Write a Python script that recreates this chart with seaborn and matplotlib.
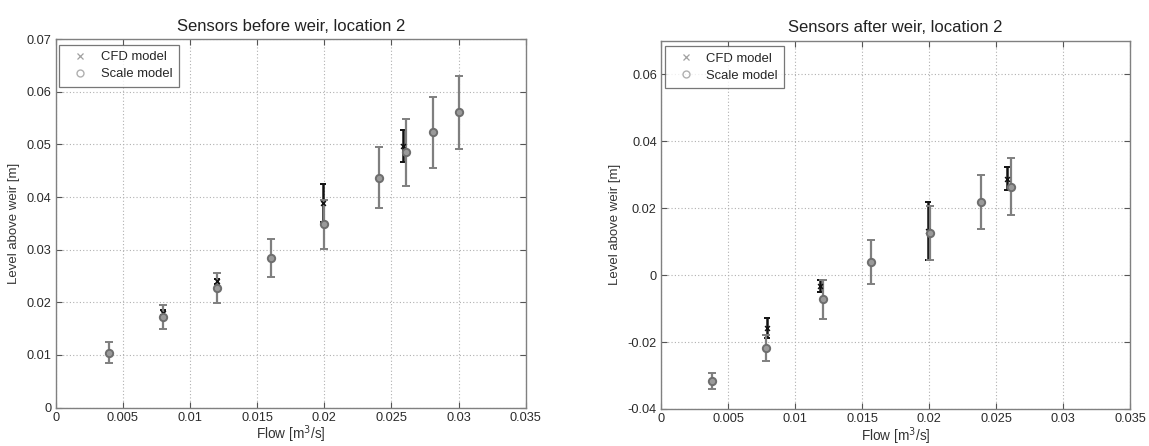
import matplotlib
matplotlib.use("Agg")
import matplotlib.pyplot as plt
from matplotlib.lines import Line2D
import seaborn as sns
import pandas as pd

# Sensors before weir, location 2
before_scale_flow = [0.0040, 0.0080, 0.0120, 0.0160, 0.0200, 0.0241, 0.0261, 0.0281, 0.0300]
before_scale_level = [0.0104, 0.0172, 0.0227, 0.0284, 0.0348, 0.0437, 0.0485, 0.0523, 0.0561]
before_scale_err = [0.0020, 0.0023, 0.0028, 0.0036, 0.0046, 0.0058, 0.0063, 0.0067, 0.0070]
before_cfd_flow = [0.0080, 0.0120, 0.0199, 0.0259]
before_cfd_level = [0.0180, 0.0240, 0.0388, 0.0497]
before_cfd_err = [0.0005, 0.0005, 0.0036, 0.0031]

# Sensors after weir, location 2
after_scale_flow = [0.0038, 0.0078, 0.0121, 0.0157, 0.0201, 0.0239, 0.0261]
after_scale_level = [-0.0316, -0.0218, -0.0073, 0.0039, 0.0125, 0.0219, 0.0264]
after_scale_err = [0.0024, 0.0038, 0.0058, 0.0066, 0.0080, 0.0081, 0.0086]
after_cfd_flow = [0.0079, 0.0119, 0.0199, 0.0258]
after_cfd_level = [-0.0159, -0.0033, 0.0131, 0.0288]
after_cfd_err = [0.0030, 0.0018, 0.0086, 0.0034]

x_ticks = [0, 0.005, 0.01, 0.015, 0.02, 0.025, 0.03, 0.035]
x_tick_labels = ["0", "0.005", "0.01", "0.015", "0.02", "0.025", "0.03", "0.035"]
before_y_ticks = [0, 0.01, 0.02, 0.03, 0.04, 0.05, 0.06, 0.07]
before_y_labels = ["0", "0.01", "0.02", "0.03", "0.04", "0.05", "0.06", "0.07"]
after_y_ticks = [-0.04, -0.02, 0, 0.02, 0.04, 0.06]
after_y_labels = ["-0.04", "-0.02", "0", "0.02", "0.04", "0.06"]

sns.set_theme(style="white")
plt.rcParams["font.family"] = ["Liberation Sans", "DejaVu Sans"]

GRAY = "#7f7f7f"
BLACK = "#111111"


def draw_panel(ax, title, scale, cfd, ylim, yticks, ylabels):
    sf, sl, se = scale
    cf, cl, ce = cfd
    df_scale = pd.DataFrame({"flow": sf, "level": sl})
    df_cfd = pd.DataFrame({"flow": cf, "level": cl})

    ax.errorbar(cf, cl, yerr=ce, fmt="none", ecolor=BLACK, elinewidth=1.8,
                capsize=2, capthick=1.4, zorder=3)
    ax.errorbar(sf, sl, yerr=se, fmt="none", ecolor=GRAY, elinewidth=1.6,
                capsize=3, capthick=1.4, zorder=4)
    sns.scatterplot(data=df_cfd, x="flow", y="level", ax=ax, marker="x",
                    color=BLACK, s=12, linewidth=1.1, zorder=5, legend=False)
    sns.scatterplot(data=df_scale, x="flow", y="level", ax=ax, marker="o",
                    facecolor="#9a9a9a", edgecolor="#6e6e6e", s=28,
                    linewidth=1.4, zorder=6, legend=False)

    ax.set_xlim(0, 0.035)
    ax.set_ylim(*ylim)
    ax.set_xticks(x_ticks)
    ax.set_xticklabels(x_tick_labels)
    ax.set_yticks(yticks)
    ax.set_yticklabels(ylabels)
    ax.grid(True, linestyle=(0, (1, 2)), color="#b0b0b0", linewidth=0.8)
    ax.tick_params(direction="in", length=4, width=0.8, colors="#555555",
                   labelcolor="#2a2a2a", labelsize=9.2, top=True, right=True,
                   bottom=True, left=True, pad=3)
    for sp in ax.spines.values():
        sp.set_color("#808080")
        sp.set_linewidth(1.0)
    ax.set_title(title, fontsize=12, color="#222222", pad=6)
    ax.set_xlabel("Flow [m$^3$/s]", fontsize=9.8, color="#333333", labelpad=0)
    ax.set_ylabel("Level above weir [m]", fontsize=9.5, color="#333333", labelpad=5)

    handles = [
        Line2D([], [], linestyle="none", marker="x", color="#a0a0a0",
               markersize=4, markeredgewidth=0.9, label="CFD model"),
        Line2D([], [], linestyle="none", marker="o", markerfacecolor="none",
               markeredgecolor="#b0b0b0", markersize=5, label="Scale model"),
    ]
    leg = ax.legend(handles=handles, loc="upper left",
                    bbox_to_anchor=(0.008, 0.985), borderaxespad=0,
                    fontsize=9.4, frameon=True, fancybox=False,
                    edgecolor="#555555", handletextpad=0.45, borderpad=0.5,
                    labelspacing=0.35, handlelength=2.2)
    leg.get_frame().set_linewidth(0.9)


fig = plt.figure(figsize=(11.49, 4.46), dpi=100)
ax1 = fig.add_axes([0.0485, 0.0863, 0.4090, 0.8256])
ax2 = fig.add_axes([0.5753, 0.0830, 0.4082, 0.8258])

draw_panel(ax1, "Sensors before weir, location 2",
           (before_scale_flow, before_scale_level, before_scale_err),
           (before_cfd_flow, before_cfd_level, before_cfd_err),
           (0, 0.07), before_y_ticks, before_y_labels)
draw_panel(ax2, "Sensors after weir, location 2",
           (after_scale_flow, after_scale_level, after_scale_err),
           (after_cfd_flow, after_cfd_level, after_cfd_err),
           (-0.04, 0.07), after_y_ticks, after_y_labels)

fig.savefig("out.png", dpi=100, facecolor="white")
